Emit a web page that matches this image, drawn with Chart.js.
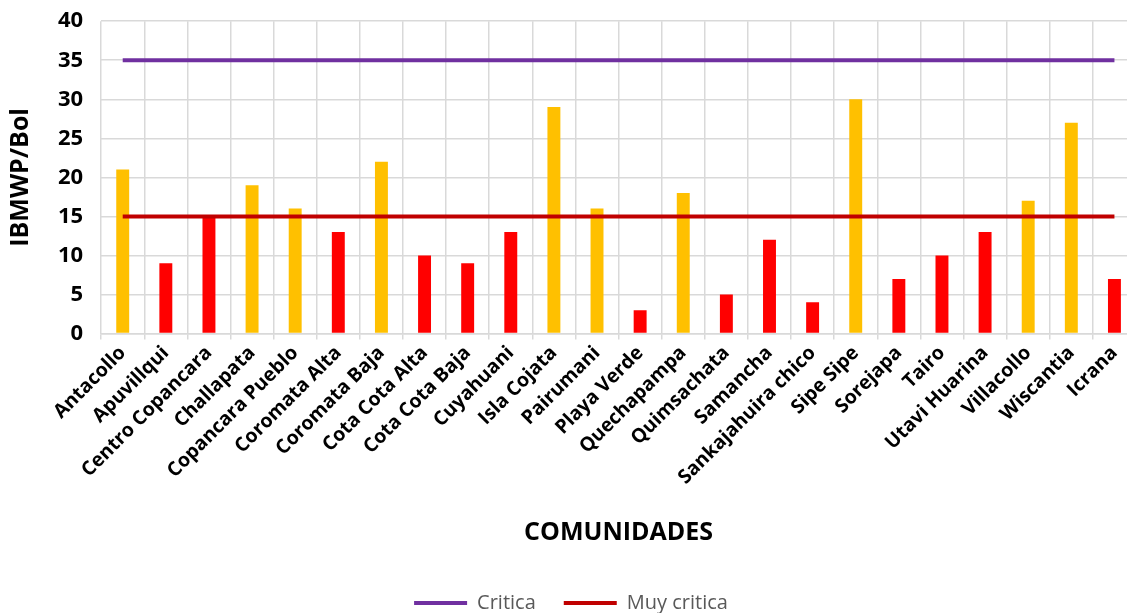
<!DOCTYPE html>
<html>
<head>
<meta charset="utf-8">
<script src="https://cdn.jsdelivr.net/npm/chart.js@4.4.0/dist/chart.umd.min.js"></script>
<style>
  html, body { margin: 0; padding: 0; background: #fff; overflow: hidden; }
  /* el lienzo sobresale un poco de la ventana: el área de trazado llega a los bordes */
  #wrap { width: 1136px; height: 633px; margin-top: -10px; }
</style>
</head>
<body>
<div id="wrap"><canvas id="grafico"></canvas></div>
<script>
// comunidades muestreadas y su valor IBMWP/Bol
const comunidades = ['Antacollo', 'Apuvillqui', 'Centro Copancara', 'Challapata', 'Copancara Pueblo',
  'Coromata Alta', 'Coromata Baja', 'Cota Cota Alta', 'Cota Cota Baja', 'Cuyahuani', 'Isla Cojata',
  'Pairumani', 'Playa Verde', 'Quechapampa', 'Quimsachata', 'Samancha', 'Sankajahuira chico',
  'Sipe Sipe', 'Sorejapa', 'Tairo', 'Utavi Huarina', 'Villacollo', 'Wiscantia', 'Icrana'];
const ibmwp = [21, 9, 15, 19, 16, 13, 22, 10, 9, 13, 29, 16, 3, 18, 5, 12, 4, 30, 7, 10, 13, 17, 27, 7];
// umbrales
const critica    = [35, 35, 35, 35, 35, 35, 35, 35, 35, 35, 35, 35, 35, 35, 35, 35, 35, 35, 35, 35, 35, 35, 35, 35];
const muyCritica = [15, 15, 15, 15, 15, 15, 15, 15, 15, 15, 15, 15, 15, 15, 15, 15, 15, 15, 15, 15, 15, 15, 15, 15];
const yTicks = [0, 5, 10, 15, 20, 25, 30, 35, 40];

// amarillo sobre el umbral muy critico, rojo en o bajo el umbral
var colores = [];
for (var i = 0; i < ibmwp.length; i++) {
  colores.push(ibmwp[i] > muyCritica[i] ? '#FFC000' : '#FF0000');
}

const fuente = '"Open Sans", "Noto Sans", sans-serif';

new Chart(document.getElementById('grafico'), {
  type: 'bar',
  data: {
    labels: comunidades,
    datasets: [
      {
        type: 'line',
        label: 'Critica',
        data: critica,
        borderColor: '#7030A0',
        backgroundColor: '#7030A0',
        borderWidth: 4,
        pointRadius: 0,
        order: 1
      },
      {
        type: 'line',
        label: 'Muy critica',
        data: muyCritica,
        borderColor: '#C00000',
        backgroundColor: '#C00000',
        borderWidth: 4,
        pointRadius: 0,
        order: 1
      },
      {
        label: 'IBMWP',
        data: ibmwp,
        backgroundColor: colores,
        barPercentage: 0.6,
        categoryPercentage: 0.5,
        order: 2
      }
    ]
  },
  options: {
    responsive: true,
    maintainAspectRatio: false,
    animation: false,
    layout: { padding: { left: 6, right: 0, top: 0, bottom: 0 } },
    plugins: {
      tooltip: { enabled: false },
      legend: {
        position: 'bottom',
        labels: {
          usePointStyle: true,
          pointStyle: 'line',
          pointStyleWidth: 53,
          boxHeight: 4,
          color: '#595959',
          font: { family: fuente, size: 20 },
          padding: 2,
          filter: function (item) { return item.text !== 'IBMWP'; },
          generateLabels: function (chart) {
            var items = Chart.defaults.plugins.legend.labels.generateLabels(chart);
            // separa las dos entradas de la leyenda
            items.forEach(function (it) {
              if (it.text === 'Critica') it.text = 'Critica     ';
            });
            return items;
          }
        }
      }
    },
    scales: {
      x: {
        offset: true,
        grid: { color: '#d9d9d9', lineWidth: 1.5, offset: true, tickLength: 6, drawTicks: true },
        border: { color: '#d9d9d9', width: 1.5 },
        ticks: {
          autoSkip: false,
          maxRotation: 45,
          minRotation: 45,
          color: '#000',
          padding: 2,
          font: { family: fuente, size: 19.5, weight: 'bold' }
        },
        title: {
          display: true,
          text: 'COMUNIDADES',
          color: '#000',
          font: { family: fuente, size: 25, weight: 'bold' },
          padding: { top: 27, bottom: 43 }
        }
      },
      y: {
        min: 0,
        max: 40,
        afterBuildTicks: function (axis) {
          axis.ticks = yTicks.map(function (v) { return { value: v }; });
        },
        grid: { color: '#d9d9d9', lineWidth: 1.5, drawTicks: false },
        border: { display: false },
        ticks: {
          color: '#000',
          padding: 18,
          font: { family: fuente, size: 22, weight: 'bold' }
        },
        title: {
          display: true,
          text: 'IBMWP/Bol',
          color: '#000',
          font: { family: fuente, size: 25, weight: 'bold' },
          padding: { top: 0, bottom: 4 }
        }
      }
    }
  }
});
</script>
</body>
</html>
